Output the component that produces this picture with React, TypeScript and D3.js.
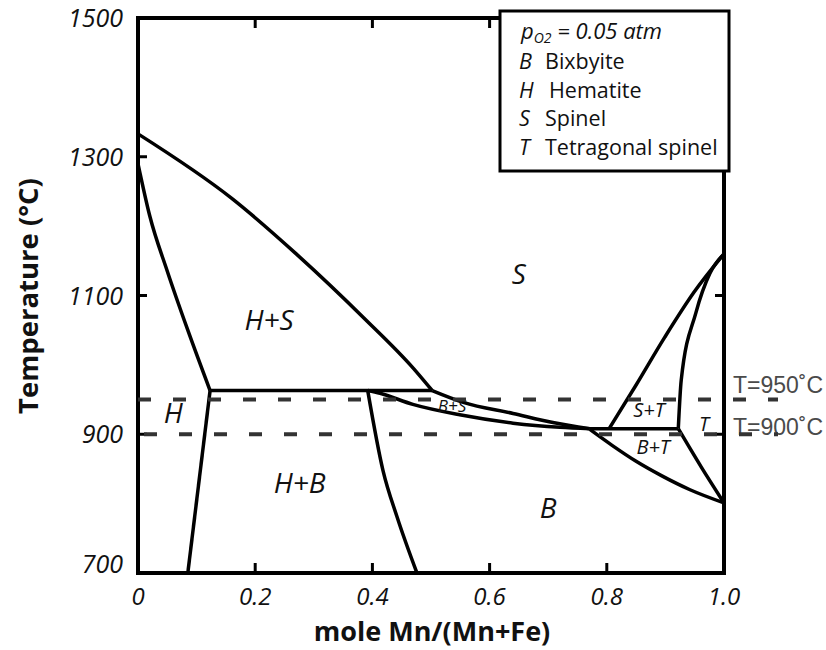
import React from "react";
import * as d3 from "d3";

// Phase diagram Mn/(Mn+Fe) oxides at pO2 = 0.05 atm
type Pt = [number, number];

const xTickValues = [0, 0.2, 0.4, 0.6, 0.8, 1.0];
const xTickLabels = ["0", "0.2", "0.4", "0.6", "0.8", "1.0"];
const yTickValues = [700, 900, 1100, 1300, 1500];
const yTickLabels = ["700", "900", "1100", "1300", "1500"];

// Phase boundaries: [mole fraction Mn, temperature °C]
const spinelTop: Pt[] = [[0, 1333], [0.16, 1240], [0.27, 1160], [0.385, 1068], [0.47, 995], [0.502, 963]];
const hematiteSolvus: Pt[] = [[0, 1290], [0.02, 1215], [0.05, 1135], [0.085, 1050], [0.123, 963]];
const hematiteLower: Pt[] = [[0.085, 700], [0.123, 963]];
const eutectoidHS: Pt[] = [[0.123, 963], [0.502, 963]];
const bixbyiteSolvus: Pt[] = [[0.392, 963], [0.418, 848], [0.442, 781], [0.476, 700]];
const bsUpper: Pt[] = [[0.502, 963], [0.555, 946], [0.64, 930], [0.708, 917], [0.771, 908]];
const bsLower: Pt[] = [[0.392, 963], [0.413, 959], [0.469, 943], [0.549, 928], [0.64, 916], [0.72, 910], [0.771, 908]];
const eutectoidST: Pt[] = [[0.771, 908], [0.922, 908]];
const stLeft: Pt[] = [[0.804, 908], [0.85, 971], [0.899, 1040], [0.949, 1105], [1.0, 1160]];
const stRight: Pt[] = [[0.922, 908], [0.927, 978], [0.952, 1075], [0.976, 1132], [1.0, 1160]];
const tbtBoundary: Pt[] = [[0.922, 908], [0.961, 853], [1.0, 801]];
const btLower: Pt[] = [[0.771, 907], [0.809, 884], [0.85, 861], [0.894, 840], [0.942, 820], [1.0, 801]];

const boundaries: Pt[][] = [
  spinelTop, hematiteSolvus, hematiteLower, eutectoidHS, bixbyiteSolvus,
  bsUpper, bsLower, eutectoidST, stLeft, stRight, tbtBoundary, btLower,
];

// Phase field labels
const fieldNames = ["S", "H+S", "H", "H+B", "B", "B+S", "S+T", "T", "B+T"];
const fieldX = [0.65, 0.2235, 0.06, 0.276, 0.70, 0.536, 0.872, 0.966, 0.879];
const fieldT = [1132, 1066, 932, 831, 795, 942, 935, 915, 883];
const fieldSize = [28, 28, 28, 28, 28, 17, 20, 20, 20];

// Reference isotherms
const isotherms = [950, 900];
const isothermLabels = ["T=950˚C", "T=900˚C"];
const isothermLabelShift = [-7, 1];

const legendTitle = "= 0.05 atm";
const legendSymbols = ["B", "H", "S", "T"];
const legendNames = ["Bixbyite", "Hematite", "Spinel", "Tetragonal spinel"];

const W = 826;
const H = 650;
const x = d3.scaleLinear().domain([0, 1]).range([138, 724]);
const y = d3.scaleLinear().domain([700, 1500]).range([573, 18]);

const line = d3
  .line<Pt>()
  .x((d) => x(d[0]))
  .y((d) => y(d[1]))
  .curve(d3.curveMonotoneX);

const FONT = "'Open Sans', 'Noto Sans', sans-serif";

export default function App() {
  const [x0, x1] = x.range();
  const [y0, y1] = y.range();
  const innerX = xTickValues.filter((v) => v > 0 && v < 1);
  const innerY = yTickValues.filter((v) => v > 700 && v < 1500);
  return (
    <svg
      width={W}
      height={H}
      viewBox={`0 0 ${W} ${H}`}
      style={{ position: "absolute", left: 0, top: 0, background: "#fff" }}
    >
      {/* frame */}
      <rect x={x0} y={y1} width={x1 - x0} height={y0 - y1} fill="none" stroke="#000" strokeWidth={4} />
      {innerX.map((v) => (
        <g key={`xt${v}`} stroke="#000" strokeWidth={3}>
          <line x1={x(v)} x2={x(v)} y1={y0} y2={y0 - 10} />
          <line x1={x(v)} x2={x(v)} y1={y1} y2={y1 + 10} />
        </g>
      ))}
      {innerY.map((v) => (
        <g key={`yt${v}`} stroke="#000" strokeWidth={3}>
          <line x1={x0} x2={x0 + 9} y1={y(v)} y2={y(v)} />
          <line x1={x1} x2={x1 - 9} y1={y(v)} y2={y(v)} />
        </g>
      ))}

      {/* tick labels */}
      {xTickValues.map((v, i) => (
        <text
          key={`xl${v}`}
          x={x(v)}
          y={605}
          textAnchor="middle"
          fontFamily={FONT}
          fontStyle="italic"
          fontSize={24}
          fill="#111"
        >
          {xTickLabels[i]}
        </text>
      ))}
      {yTickValues.map((v, i) => (
        <text
          key={`yl${v}`}
          x={123}
          y={y(v) + (v === 700 ? 0 : 9)}
          textAnchor="end"
          fontFamily={FONT}
          fontStyle="italic"
          fontSize={25}
          fill="#111"
        >
          {yTickLabels[i]}
        </text>
      ))}

      {/* axis titles */}
      <text x={432} y={641} textAnchor="middle" fontFamily={FONT} fontWeight="bold" fontSize={27} fill="#111">
        mole Mn/(Mn+Fe)
      </text>
      <text
        transform={`translate(38,296) rotate(-90)`}
        textAnchor="middle"
        fontFamily={FONT}
        fontWeight="bold"
        fontSize={27.5}
        fill="#111"
      >
        Temperature (°C)
      </text>

      {/* phase boundaries */}
      {boundaries.map((b, i) => (
        <path key={`b${i}`} d={line(b) ?? ""} fill="none" stroke="#000" strokeWidth={3.5} strokeLinejoin="round" />
      ))}

      {/* field labels */}
      {fieldNames.map((n, i) => (
        <text
          key={`f${n}`}
          x={x(fieldX[i])}
          y={y(fieldT[i])}
          textAnchor="middle"
          dominantBaseline="central"
          fontFamily={FONT}
          fontStyle="italic"
          fontSize={fieldSize[i]}
          fill="#111"
        >
          {n}
        </text>
      ))}

      {/* isotherms */}
      {isotherms.map((t, i) => (
        <g key={`iso${t}`}>
          <text
            x={733}
            y={y(t) + isothermLabelShift[i]}
            fontFamily="'Liberation Sans', Arial, sans-serif"
            fontSize={23}
            fill="#4a4a4a"
          >
            {isothermLabels[i]}
          </text>
          <line
            x1={x0}
            x2={778}
            y1={y(t)}
            y2={y(t)}
            stroke="#333"
            strokeWidth={4}
            strokeDasharray="13 22"
            strokeDashoffset={i === 0 ? 0 : -6}
          />
        </g>
      ))}

      {/* legend */}
      <rect x={500} y={11} width={229} height={160} fill="#fff" stroke="#000" strokeWidth={3} />
      <text x={521} y={39} fontFamily={FONT} fontStyle="italic" fontSize={22} fill="#111">
        p
        <tspan fontSize={14} dy={4}>O2</tspan>
        <tspan dy={-4}> {legendTitle}</tspan>
      </text>
      {legendSymbols.map((s, i) => (
        <text key={`lg${s}`} x={519} y={69 + i * 28.5} fontFamily={FONT} fontSize={21.5} fill="#111">
          <tspan fontStyle="italic">{s}</tspan>
          <tspan x={s === "H" ? 549 : 545}>{legendNames[i]}</tspan>
        </text>
      ))}
    </svg>
  );
}
